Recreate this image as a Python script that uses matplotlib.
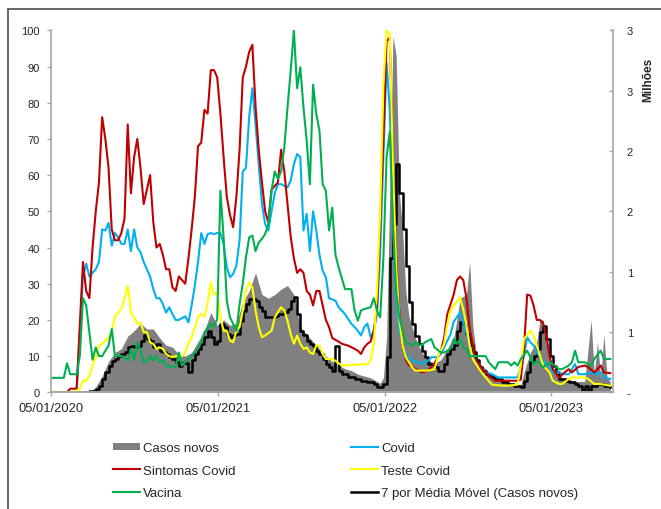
"""Google Trends (Covid) vs casos novos — recriação do gráfico."""

import matplotlib
matplotlib.use("Agg")
import matplotlib.pyplot as plt
from matplotlib.patches import Rectangle
import numpy as np
import pandas as pd

plt.rcParams["font.family"] = ["Liberation Sans", "DejaVu Sans"]

# ---------------------------------------------------------------------------
# Data (semanas desde 05/01/2020)
# ---------------------------------------------------------------------------

START = pd.Timestamp("2020-01-05")
X_END_DAYS = 1231

COVID_W = [0, 8, 9, 10, 11, 12, 13, 14, 15, 16, 17, 18, 19, 20, 21, 22, 23, 24, 25, 26,
           27, 28, 29, 31, 32, 33, 34, 35, 36, 37, 38, 39, 40, 42, 43, 44, 45, 46, 47, 48,
           49, 50, 51, 52, 53, 54, 55, 56, 57, 58, 59, 60, 61, 62, 63, 64, 65, 66, 67, 68,
           69, 70, 71, 72, 73, 74, 75, 76, 77, 78, 79, 80, 81, 82, 83, 84, 85, 86, 87, 89,
           90, 92, 94, 95, 96, 97, 98, 99, 100, 101, 102, 103, 104, 105, 106, 107, 108, 109,
           110, 111, 113, 114, 116, 118, 119, 121, 122, 123, 125, 126, 128, 129, 130, 131,
           132, 134, 136, 138, 140, 146, 148, 149, 150, 151, 152, 153, 154, 156, 157, 159,
           160, 162, 164, 165, 167, 169, 170, 172, 173, 175]
COVID = [0, 0, 15, 32, 35.5, 32, 33, 34, 36, 45, 44.7, 46.8, 40.5, 44, 42.8, 41, 41, 45, 39, 45,
         40, 38.7, 36, 32, 28.5, 26, 26, 24.4, 22, 23.5, 21.6, 20, 20, 21, 19.3, 24, 29.5, 36, 44, 41,
         43.7, 44, 43.7, 44, 44, 41, 34.5, 31.8, 32.7, 35, 42, 61, 62, 76, 84, 74, 63, 52, 46.5, 44.7,
         50, 55, 57.5, 57.5, 57, 56.6, 58.5, 63, 65.8, 65, 44.7, 49.3, 39, 50, 44.7, 38, 33.6, 31.8, 26, 25.3,
         23.5, 21.6, 18.9, 18, 17, 15.7, 18, 19, 15.2, 17, 21.6, 39, 65, 91, 78, 48, 26, 17,
         13.4, 10.6, 8.7, 8.7, 7.8, 8.7, 9.7, 9.7, 10.6, 12.4, 16, 19.5, 22, 19.3, 16.6, 13,
         9.7, 7.4, 5.5, 5, 4.1, 4.1, 10, 15.2, 13.8, 13, 11, 9.7, 8.7, 7, 5.5, 5.5,
         5, 5, 7.8, 5, 5, 5.5, 5, 5.5, 4.1, 3.7]

SINTOMAS_W = [0, 5, 6, 8, 10, 11, 12, 13, 14, 15, 16, 17, 18, 19, 20, 21, 22, 23, 24, 25,
              26, 27, 28, 29, 30, 31, 32, 33, 34, 35, 36, 37, 38, 39, 40, 41, 42, 43, 44, 45,
              46, 47, 48, 49, 50, 51, 52, 53, 54, 55, 56, 57, 58, 59, 60, 61, 62, 63, 64, 65,
              66, 67, 68, 69, 71, 72, 73, 74, 75, 76, 77, 78, 79, 80, 81, 82, 83, 84, 85, 86,
              87, 88, 90, 91, 93, 95, 96, 97, 98, 99, 100, 101, 102, 103, 104, 105, 106, 107,
              108, 109, 110, 111, 112, 113, 115, 116, 118, 120, 121, 122, 123, 124, 126, 127,
              128, 129, 130, 131, 132, 133, 135, 137, 139, 146, 147, 148, 149, 150, 151, 152,
              153, 154, 155, 156, 157, 159, 160, 162, 163, 165, 167, 168, 170, 171, 172, 173, 175]
SINTOMAS = [0, 0, 1, 1, 36, 28, 26, 40, 50, 58, 76, 70, 62, 45, 42, 42, 44, 48, 74, 55,
            65, 70, 62, 52, 56, 60, 47, 40, 41, 38, 34, 34, 29, 28, 32, 31, 30, 37, 45, 54,
            68, 69, 78, 77, 89, 89, 87, 77, 65, 54, 49, 45.6, 54, 67, 87, 90, 94, 96, 79, 67,
            58, 50, 47, 56, 58, 67, 61, 52, 43, 37, 33, 34, 33, 28, 27, 24, 28, 28, 24, 20,
            18, 15, 14, 13.4, 12.9, 12, 11.5, 10.6, 12.4, 13.4, 14, 17, 23.5, 46, 70, 97, 98, 62,
            37, 22, 13, 9, 7.5, 7, 6, 5.5, 6, 8, 9.7, 11.5, 15, 21.6, 27, 31,
            32, 31, 26, 17.5, 13, 9, 6.4, 4.6, 3.2, 3.2, 3.5, 12, 27, 26.7, 24, 20,
            20, 19, 15.6, 10, 6.4, 4, 5, 6.4, 5.5, 7, 7.4, 7, 5.5, 6.4, 7.4, 5.5, 5.3]

TESTE_W = [0, 7, 9, 10, 11, 12, 13, 14, 15, 16, 17, 18, 19, 20, 21, 22, 23, 24, 25, 26,
           27, 28, 29, 30, 31, 32, 33, 34, 35, 36, 37, 38, 39, 41, 42, 43, 44, 45, 46, 47,
           48, 49, 50, 51, 52, 53, 54, 55, 56, 57, 58, 59, 60, 61, 62, 63, 64, 65, 66, 67,
           69, 70, 72, 73, 74, 75, 76, 77, 78, 79, 80, 81, 82, 83, 84, 85, 86, 88, 89, 91,
           99, 100, 101, 102, 103, 104, 105, 106, 107, 108, 109, 110, 111, 113, 114, 118, 120,
           121, 123, 124, 125, 126, 128, 129, 130, 131, 132, 134, 136, 138, 142, 146, 147,
           148, 150, 151, 152, 153, 154, 156, 157, 159, 160, 162, 163, 167, 168, 170, 172, 175]
TESTE = [0, 0, 1, 3.2, 3.2, 4.6, 7.4, 9.7, 12.9, 13.5, 14.3, 15, 17, 21, 22, 23, 26, 29.5, 22, 20.7,
         18.9, 19.3, 16.6, 16.6, 13.8, 13.4, 12, 12.4, 12, 10.6, 10, 9.7, 10, 10, 11, 13.4, 15.2, 18, 20.7, 21.6,
         21, 24.4, 30.4, 27, 27.6, 20.7, 17, 17, 14.3, 13.8, 17, 18, 22.6, 28, 30.4, 29, 22.6, 18, 15.2, 15.7,
         17, 20.7, 23.5, 22.6, 19.8, 16.1, 13.4, 15.7, 13.4, 12, 12.4, 11, 10.6, 12.9, 12.9, 10.6, 9.2, 9.2, 8.7, 7.4,
         7.8, 8.7, 13.4, 28, 50, 85, 100, 99, 62, 35, 20, 13, 9.7, 6.9, 6, 6, 6.4,
         9.7, 13.4, 18.9, 22.6, 24, 26.2, 23, 18.4, 12.9, 9.2, 6.4, 4.1, 2.1, 1.8, 2.1, 7.4,
         14.7, 17, 15.7, 12.9, 10, 7.4, 5.5, 3.2, 2.3, 2.3, 3.7, 4.1, 4.1, 3.7, 2.3, 2.3, 1.8]

VACINA_W = [0, 4, 5, 6, 8, 9, 10, 11, 12, 13, 14, 15, 16, 17, 18, 19, 20, 22, 23, 24,
            25, 26, 27, 28, 29, 30, 31, 32, 33, 34, 35, 36, 38, 39, 40, 41, 42, 43, 44, 46,
            47, 48, 50, 51, 52, 53, 54, 55, 56, 57, 58, 59, 60, 61, 62, 63, 64, 65, 66, 67,
            68, 69, 70, 71, 72, 73, 74, 75, 76, 77, 78, 79, 80, 81, 82, 83, 84, 85, 86, 87,
            88, 89, 90, 92, 94, 95, 96, 97, 98, 100, 101, 102, 103, 104, 105, 106, 107, 108,
            109, 110, 111, 113, 114, 116, 117, 119, 120, 122, 123, 125, 126, 127, 128, 129,
            130, 131, 134, 136, 137, 139, 140, 143, 144, 145, 146, 147, 149, 150, 151, 152,
            154, 156, 157, 159, 160, 162, 163, 164, 165, 167, 168, 169, 170, 172, 173, 175]
VACINA = [4, 4, 8, 5, 5, 10, 26, 24, 16.6, 9, 12.4, 10, 10, 11.5, 12.9, 17.5, 10, 10, 9.7, 8.7,
          12, 9, 13.8, 11.5, 8.3, 8.7, 10, 8.7, 10, 8.3, 9, 7.4, 6.9, 6.9, 11, 7.4, 8.3, 9.2, 10, 12,
          13.8, 16.6, 18.9, 18, 20.3, 55.7, 42.8, 25.3, 20.7, 18.9, 17, 24.4, 30, 37.3, 42.8, 43.3, 39, 41.4, 42.4, 43.7,
          46.5, 55.7, 61, 59, 61, 67.7, 78.7, 88.9, 100, 84, 89.8, 78.7, 69.5, 57.5, 85, 76.9, 72.3, 57.5, 55.7, 44.7,
          51, 38, 34.5, 28.5, 28.5, 22.6, 19.8, 22.6, 23, 23.5, 26, 22.6, 20.7, 37, 65, 72, 46.5, 28,
          20.7, 17, 13.8, 12.9, 13.8, 12.9, 13.8, 14.7, 12.4, 11, 11, 12, 14.7, 13.4, 14.7, 12.4,
          12, 10, 10, 10, 8.3, 6.4, 8.3, 8.3, 7.4, 8.3, 7.4, 9.2, 11.5, 9.7, 7.8, 8.7,
          6.9, 8.3, 7.8, 6.4, 6.4, 7.4, 8.3, 11.5, 8.3, 8.3, 7.8, 7.4, 9.2, 11.5, 9.2, 9.2]

# casos novos (milhões)
CASOS_W = [0, 12, 14, 16, 18, 20, 22, 24, 26, 28, 30, 32, 34, 36, 38, 40, 42, 44, 46, 48,
           50, 52, 54, 56, 58, 60, 62, 64, 66, 68, 70, 72, 74, 76, 78, 80, 82, 84, 86, 88,
           90, 92, 94, 96, 98, 100, 102, 103, 104, 105, 106, 107, 108, 109, 110, 111, 112, 113,
           114, 116, 118, 120, 122, 124, 126, 127, 128, 130, 131, 132, 133, 134, 136, 138, 140,
           144, 147, 148, 150, 152, 153, 154, 155, 156, 158, 160, 164, 167, 169, 170, 171, 172,
           173, 174, 175]
CASOS = [0, 0, 0.045, 0.135, 0.255, 0.33, 0.36, 0.465, 0.51, 0.57, 0.525, 0.525, 0.45, 0.39, 0.375, 0.315, 0.30, 0.33, 0.42, 0.51,
         0.66, 0.555, 0.60, 0.555, 0.57, 0.75, 0.84, 0.99, 0.81, 0.78, 0.81, 0.855, 0.885, 0.81, 0.54, 0.48, 0.42, 0.36, 0.30, 0.255,
         0.225, 0.195, 0.18, 0.15, 0.135, 0.12, 0.09, 0.075, 0.12, 0.45, 1.65, 2.95, 2.79, 1.65, 1.35, 0.84, 0.63, 0.54,
         0.45, 0.33, 0.27, 0.24, 0.27, 0.36, 0.45, 0.60, 0.78, 0.81, 1.08, 0.54, 0.33, 0.24, 0.195, 0.135, 0.105,
         0.075, 0.06, 0.165, 0.33, 0.42, 0.60, 0.60, 0.42, 0.255, 0.165, 0.12, 0.09, 0.09, 0.60, 0.15, 0.42, 0.12,
         0.48, 0.12, 0.09]

MEDIA_W = [0, 11, 12, 14, 15, 16, 17, 18, 19, 20, 21, 22, 23, 24, 25, 26, 27, 28, 29, 30,
           31, 32, 33, 34, 35, 36, 37, 38, 39, 40, 41, 42, 43, 44, 45, 46, 47, 48, 49, 50,
           51, 52, 53, 54, 55, 56, 57, 58, 59, 60, 61, 62, 63, 64, 65, 66, 67, 68, 69, 70,
           71, 72, 73, 74, 75, 76, 77, 78, 79, 80, 81, 82, 83, 84, 85, 86, 87, 88, 89, 90,
           91, 93, 95, 97, 99, 101, 102, 103, 104, 105, 106, 107, 108, 109, 110, 111, 112, 113,
           114, 115, 116, 117, 118, 120, 121, 123, 124, 125, 126, 127, 128, 129, 130, 131, 132,
           133, 134, 135, 136, 137, 138, 139, 141, 143, 145, 147, 148, 149, 150, 151, 152, 153,
           154, 155, 156, 157, 158, 159, 161, 162, 164, 165, 166, 167, 168, 169, 171, 173, 175]
MEDIA = [0, 0, 0.015, 0.03, 0.054, 0.111, 0.165, 0.222, 0.261, 0.276, 0.30, 0.315, 0.33, 0.372, 0.387, 0.372, 0.387, 0.429, 0.471, 0.441,
         0.429, 0.372, 0.402, 0.345, 0.33, 0.318, 0.291, 0.276, 0.249, 0.222, 0.24, 0.24, 0.165, 0.27, 0.318, 0.36, 0.402, 0.456, 0.51, 0.456,
         0.402, 0.429, 0.567, 0.54, 0.483, 0.456, 0.471, 0.483, 0.594, 0.678, 0.732, 0.774, 0.774, 0.759, 0.705, 0.678, 0.621, 0.621, 0.621, 0.636,
         0.648, 0.648, 0.663, 0.69, 0.759, 0.786, 0.648, 0.51, 0.471, 0.429, 0.402, 0.387, 0.345, 0.318, 0.276, 0.234, 0.207, 0.18, 0.387, 0.18,
         0.15, 0.123, 0.111, 0.096, 0.084, 0.069, 0.042, 0.042, 0.069, 0.291, 1.11, 1.395, 1.89, 1.65, 1.35, 1.05, 0.75, 0.57,
         0.465, 0.402, 0.345, 0.291, 0.234, 0.207, 0.18, 0.234, 0.318, 0.36, 0.39, 0.51, 0.579, 0.57, 0.48, 0.39, 0.33,
         0.27, 0.21, 0.18, 0.15, 0.135, 0.123, 0.111, 0.084, 0.069, 0.051, 0.042, 0.096, 0.165, 0.249, 0.30, 0.36, 0.498,
         0.552, 0.441, 0.30, 0.222, 0.165, 0.111, 0.096, 0.084, 0.069, 0.054, 0.015, 0.054, 0.015, 0.054, 0.069, 0.054, 0.042]

X_TICKS = ["2020-01-05", "2021-01-05", "2022-01-05", "2023-01-05"]
Y2_LABELS = ["-", "1", "1", "2", "2", "3", "3"]


def to_dates(weeks):
    return START + pd.to_timedelta(np.asarray(weeks) * 7, unit="D")


# ---------------------------------------------------------------------------
# Plot
# ---------------------------------------------------------------------------

fig = plt.figure(figsize=(6.61, 5.10), dpi=100)
ax = fig.add_axes([0.0772, 0.2288, 0.8502, 0.7098])
ax2 = ax.twinx()
ax.set_zorder(ax2.get_zorder() + 1)
ax.patch.set_visible(False)

spine_c = "#a6a6a6"
txt_c = "#262626"

# secondary axis: cases + moving average
h_casos = ax2.fill_between(to_dates(CASOS_W), CASOS, 0, color="#808080", lw=0,
                           label="Casos novos")
h_media, = ax2.plot(to_dates(MEDIA_W), MEDIA, color="black", lw=1.8, drawstyle="steps-post",
                    label="7 por Média Móvel (Casos novos)")

# primary axis: google trends
h_covid, = ax.plot(to_dates(COVID_W), COVID, color="#00b0f0", lw=1.5, label="Covid")
h_sint, = ax.plot(to_dates(SINTOMAS_W), SINTOMAS, color="#c00000", lw=1.5, label="Sintomas Covid")
h_teste, = ax.plot(to_dates(TESTE_W), TESTE, color="#ffff00", lw=1.5, label="Teste Covid")
h_vac, = ax.plot(to_dates(VACINA_W), VACINA, color="#00b050", lw=1.5, label="Vacina")

ax.set_xlim(START, START + pd.Timedelta(days=X_END_DAYS))
ax.set_ylim(0, 100)
ax2.set_ylim(0, 3)

ax.set_yticks(np.arange(0, 101, 10))
ax.set_xticks(pd.to_datetime(X_TICKS))
ax.set_xticklabels([pd.Timestamp(d).strftime("%d/%m/%Y") for d in X_TICKS])
ax2.set_yticks(np.arange(0, 3.01, 0.5))
ax2.set_yticklabels(Y2_LABELS)

for a in (ax, ax2):
    for s in a.spines.values():
        s.set_color(spine_c)
        s.set_linewidth(1.2)
    a.spines["top"].set_visible(False)
ax.spines["right"].set_visible(False)
ax2.spines["left"].set_visible(False)

ax.tick_params(axis="y", length=3, width=1, color=spine_c, pad=5, labelsize=8, labelcolor=txt_c)
ax.tick_params(axis="x", length=3, width=1, color=spine_c, pad=4, labelsize=9.3, labelcolor=txt_c)
ax2.tick_params(axis="y", direction="in", length=3, width=1, color=spine_c, pad=10,
                labelsize=8, labelcolor=txt_c)

fig.text(648 / 661, 1 - 80 / 510, "Milhões", rotation=90, ha="center", va="center",
         fontsize=8.5, fontweight="bold", color=txt_c)

fig.legend([h_casos, h_sint, h_vac, h_covid, h_teste, h_media],
           ["Casos novos", "Sintomas Covid", "Vacina", "Covid", "Teste Covid",
            "7 por Média Móvel (Casos novos)"],
           ncol=2, loc="upper left", bbox_to_anchor=(113 / 661, 1 - 443 / 510),
           frameon=False, fontsize=9.5, handlelength=2.05, handletextpad=0.25,
           handleheight=0.5, columnspacing=8.7, labelspacing=0.8, borderpad=0,
           borderaxespad=0, labelcolor=txt_c)

# moldura cortada do gráfico original
fig.patches.append(Rectangle((8 / 661, -0.1), 1.2, 1.08,
                             transform=fig.transFigure, fill=False,
                             edgecolor="#595959", lw=1.3))

fig.savefig("out.png", dpi=100)
